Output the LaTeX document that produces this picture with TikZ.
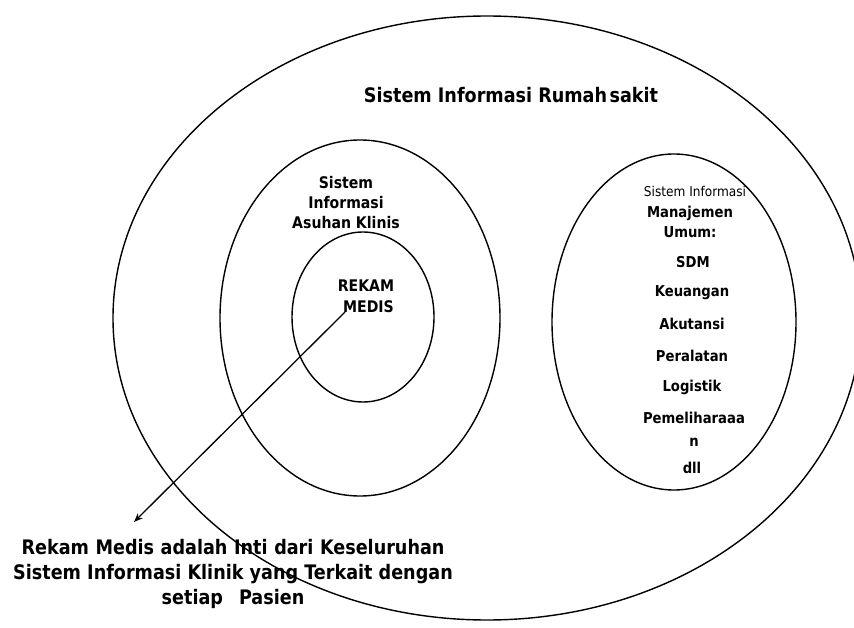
\documentclass[tikz,border=0pt]{standalone}
\usepackage{fontspec}
\setmainfont{DejaVu Sans}
\newfontfamily\bfnarrow[FakeStretch=0.88]{DejaVu Sans Bold}
\newfontfamily\rgnarrow[FakeStretch=0.9]{DejaVu Sans}
\usetikzlibrary{arrows.meta}
\tikzset{
  ring/.style={draw=black,line width=1.4pt},
  lbl/.style={inner sep=0pt,align=center,font=\bfnarrow\fontsize{15}{20}\selectfont},
  midlbl/.style={inner sep=0pt,align=center,font=\bfnarrow\fontsize{16}{20}\selectfont},
  biglbl/.style={inner sep=0pt,align=center,font=\bfnarrow\fontsize{20}{25}\selectfont},
}
\begin{document}
\begin{tikzpicture}[x=1pt,y=-1pt]
\useasboundingbox (0,0) rectangle (854,628);
\clip (0,0) rectangle (854,628);
\fill[white] (0,0) rectangle (854,628);
% ellipses
\draw[ring] (487,318) ellipse [x radius=374, y radius=302];
\draw[ring] (360,318) ellipse [x radius=140, y radius=178];
\draw[ring] (363,317) ellipse [x radius=71, y radius=85];
\draw[ring] (674,322) ellipse [x radius=122, y radius=168];
% texts
\node[biglbl] (title) at (511,95) {Sistem Informasi Rumah\hspace{0.12em}sakit};
\node[midlbl] (sia) at (346,203) {Sistem\\Informasi\\Asuhan Klinis};
\node[midlbl,font=\bfnarrow\fontsize{16}{21}\selectfont] (rm) at (366,296) {REKAM\\\hspace*{5pt}MEDIS};
\node[inner sep=0pt,font=\rgnarrow\fontsize{13.5}{14}\selectfont] (sim) at (695,191) {Sistem Informasi};
\node[lbl] (mu) at (690,222) {Manajemen\\Umum:};
\node[lbl] (sdm) at (693,262) {SDM};
\node[lbl] (keu) at (692,293) {Keuangan};
\node[lbl] (aku) at (692,324) {Akutansi};
\node[lbl] (per) at (692,356) {Peralatan};
\node[lbl] (log) at (692,387) {Logistik};
\node[lbl,font=\bfnarrow\fontsize{15}{23}\selectfont] (pem) at (694,429) {Pemeliharaaa\\n};
\node[lbl] (dll) at (692,468) {dll};
\node[biglbl] (note) at (233,574) {Rekam\hspace{0.33em}Medis\hspace{0.33em}adalah\hspace{0.33em}Inti\hspace{0.33em}dari\hspace{0.33em}Keseluruhan\\Sistem Informasi Klinik yang Terkait dengan\\setiap\hspace{0.8em}Pasien};
% arrow
\coordinate (from) at (345,312);
\coordinate (to) at (134,522);
\draw[line width=1.3pt,-{Stealth[length=9pt,width=7pt]}] (from) -- (to);
\end{tikzpicture}
\end{document}
